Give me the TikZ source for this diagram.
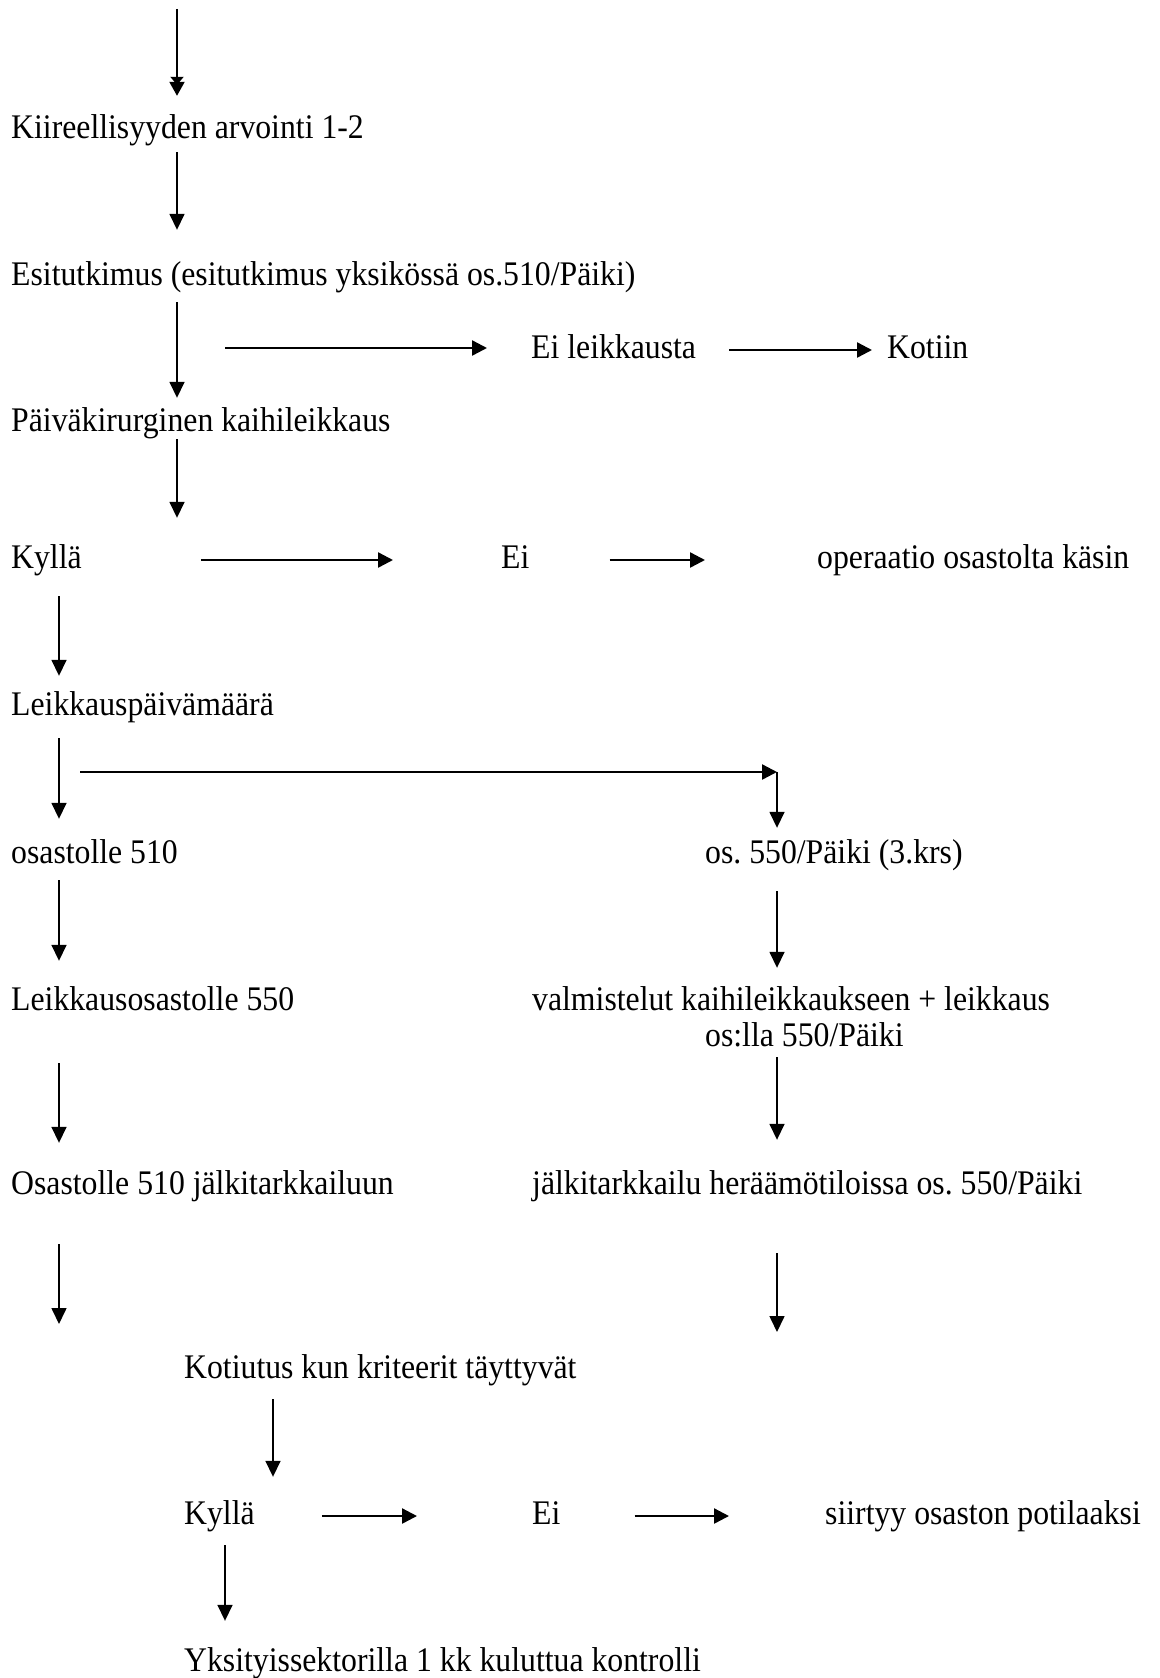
\documentclass[tikz,border=0pt]{standalone}
\usepackage{fontspec}
\setmainfont{Liberation Serif}[FakeStretch=0.92]
\usetikzlibrary{arrows.meta}
\frenchspacing

\tikzset{
  txt/.style={inner sep=0, anchor=base west, text height=23pt, text depth=7pt,
    font=\fontsize{34.5}{40}\selectfont},
  varr/.style={line width=1.6pt, -{Triangle[length=16pt, width=15pt]}},
  harr/.style={line width=2.4pt, -{Triangle[length=15pt, width=15pt]}}
}

\begin{document}
\begin{tikzpicture}[x=1pt, y=-1pt]
  \useasboundingbox (0, 0) rectangle (1159, 1678);

  % Left column
  \node[txt] (kiire) at (11, 138) {Kiireellisyyden arvointi 1-2};
  \node[txt] (esi) at (11, 285) {Esitutkimus (esitutkimus yksikössä os.510/Päiki)};
  \node[txt] (paiva) at (11, 431) {Päiväkirurginen kaihileikkaus};
  \node[txt] (kylla) at (11, 568) {Kyllä};
  \node[txt] (leik) at (11, 715) {Leikkauspäivämäärä};
  \node[txt] (osa510) at (11, 863) {osastolle 510};
  \node[txt] (leikos) at (11, 1010) {Leikkausosastolle 550};
  \node[txt] (osa510j) at (11, 1194) {Osastolle 510 jälkitarkkailuun};

  % Side branches
  \node[txt] (eileik) at (531, 358) {Ei leikkausta};
  \node[txt] (kotiin) at (887, 358) {Kotiin};
  \node[txt] (ei) at (501, 568) {Ei};
  \node[txt] (oper) at (817, 568) {operaatio osastolta käsin};

  % Right column
  \node[txt] (os550) at (705, 863) {os. 550/Päiki (3.krs)};
  \node[txt] (valm) at (532, 1010) {valmistelut kaihileikkaukseen + leikkaus};
  \node[txt] (oslla) at (705, 1046) {os:lla 550/Päiki};
  \node[txt] (jalki) at (532, 1194) {jälkitarkkailu heräämötiloissa os. 550/Päiki};

  % Bottom part
  \node[txt] (kotiutus) at (184, 1378) {Kotiutus kun kriteerit täyttyvät};
  \node[txt] (kylla2) at (184, 1524) {Kyllä};
  \node[txt] (ei2) at (532, 1524) {Ei};
  \node[txt] (siirtyy) at (825, 1524) {siirtyy osaston potilaaksi};
  \node[txt] (yks) at (184, 1671) {Yksityissektorilla 1 kk kuluttua kontrolli};

  % Columns and free ends
  \coordinate (c1) at (177, 0);
  \coordinate (c2) at (59, 0);
  \coordinate (c3) at (777, 0);
  \coordinate (c4) at (273, 0);
  \coordinate (c5) at (225, 0);
  \coordinate (start) at (177, 9);
  \coordinate (b1) at (225, 348);
  \coordinate (b2) at (80, 772);
  \coordinate (corner) at (777, 772);
  \coordinate (e1) at (59, 1324);
  \coordinate (e2) at (777, 1332);

  % Main flow
  \draw[line width=2pt, -{Triangle[length=8pt, width=13pt, sep=-3pt]Triangle[length=14pt, width=15pt]},
    shorten >=19pt] (start) -- (kiire.north -| c1);
  \draw[varr, shorten <=7pt, shorten >=32pt] (kiire.south -| c1) -- (esi.north -| c1);
  \draw[varr, shorten <=10pt, shorten >=10pt] (esi.south -| c1) -- (paiva.north -| c1);
  \draw[varr, shorten <=1pt, shorten >=27pt] (paiva.south -| c1) -- (kylla.north -| c1);
  \draw[varr, shorten <=21pt, shorten >=16pt] (kylla.south -| c2) -- (leik.north -| c2);
  \draw[varr, shorten <=16pt, shorten >=21pt] (leik.south -| c2) -- (osa510.north -| c2);
  \draw[varr, shorten <=10pt, shorten >=26pt] (osa510.south -| c2) -- (leikos.north -| c2);
  \draw[varr, shorten <=46pt, shorten >=28pt] (leikos.south -| c2) -- (osa510j.north -| c2);
  \draw[varr, shorten <=43pt] (osa510j.south -| c2) -- (e1);

  % Right flow
  \draw[harr] (b2) -- (corner);
  \draw[varr, shorten >=12pt] (corner) -- (os550.north -| c3);
  \draw[varr, shorten <=21pt, shorten >=19pt] (os550.south -| c3) -- (valm.north -| c3);
  \draw[varr, shorten <=4pt, shorten >=31pt] (oslla.south -| c3) -- (jalki.north -| c3);
  \draw[varr, shorten <=52pt] (jalki.south -| c3) -- (e2);

  % Branches
  \draw[harr, shorten >=44pt] (b1) -- (b1 -| eileik.west);
  \draw[harr, shorten <=33pt, shorten >=15pt] (eileik.east) -- (kotiin.west);
  \draw[harr, shorten <=119pt, shorten >=108pt] (kylla.east) -- (ei.west);
  \draw[harr, shorten <=80pt, shorten >=112pt] (ei.east) -- (oper.west);

  % Discharge
  \draw[varr, shorten <=14pt, shorten >=24pt] (kotiutus.south -| c4) -- (kylla2.north -| c4);
  \draw[harr, shorten <=67pt, shorten >=115pt] (kylla2.east) -- (ei2.west);
  \draw[harr, shorten <=74pt, shorten >=96pt] (ei2.east) -- (siirtyy.west);
  \draw[varr, shorten <=14pt, shorten >=27pt] (kylla2.south -| c5) -- (yks.north -| c5);
\end{tikzpicture}
\end{document}
